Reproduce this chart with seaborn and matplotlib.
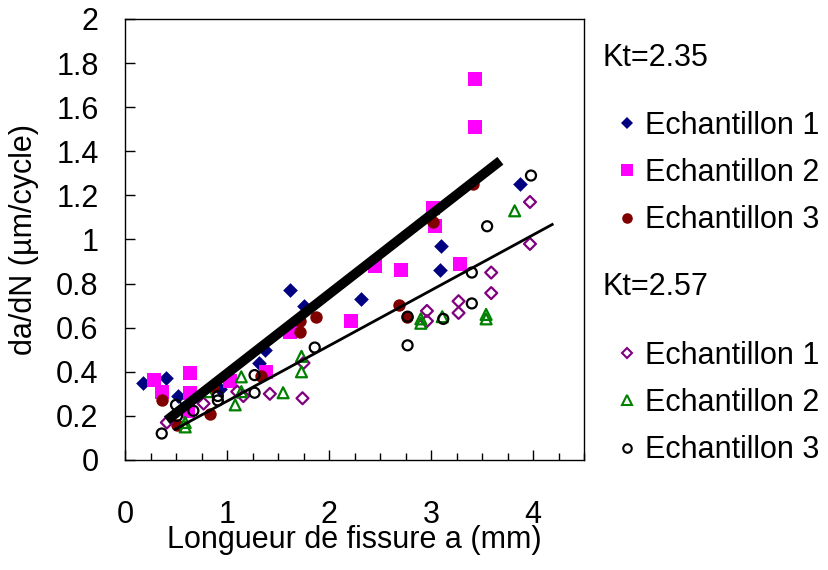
import matplotlib
matplotlib.use("Agg")
import matplotlib.pyplot as plt
import seaborn as sns
import pandas as pd
from matplotlib.lines import Line2D
from matplotlib.ticker import MultipleLocator

# Kt = 2.35
kt1_e1_x = [0.18, 0.40, 0.52, 0.93, 1.31, 1.37, 1.62, 1.75, 2.31, 3.09, 3.10, 3.87]
kt1_e1_y = [0.35, 0.37, 0.29, 0.32, 0.44, 0.50, 0.77, 0.70, 0.73, 0.86, 0.97, 1.25]

kt1_e2_x = [0.28, 0.36, 0.62, 0.64, 0.64, 1.03, 1.38, 1.62, 2.22, 2.45, 2.71, 3.02, 3.04, 3.28, 3.43, 3.43]
kt1_e2_y = [0.365, 0.31, 0.22, 0.305, 0.395, 0.36, 0.40, 0.58, 0.63, 0.88, 0.86, 1.145, 1.06, 0.89, 1.51, 1.73]

kt1_e3_x = [0.36, 0.51, 0.83, 0.86, 1.33, 1.72, 1.72, 1.87, 2.69, 2.76, 3.02, 3.41]
kt1_e3_y = [0.27, 0.16, 0.21, 0.33, 0.38, 0.58, 0.63, 0.65, 0.705, 0.65, 1.08, 1.25]

# Kt = 2.57
kt2_e1_x = [0.41, 0.77, 1.10, 1.16, 1.42, 1.74, 1.75, 2.96, 2.96, 3.27, 3.27, 3.59, 3.59, 3.97, 3.97]
kt2_e1_y = [0.17, 0.256, 0.31, 0.29, 0.30, 0.28, 0.44, 0.676, 0.63, 0.72, 0.667, 0.85, 0.757, 1.17, 0.98]

kt2_e2_x = [0.59, 0.59, 0.81, 1.08, 1.14, 1.14, 1.55, 1.73, 1.73, 2.90, 2.90, 3.11, 3.54, 3.54, 3.82]
kt2_e2_y = [0.15, 0.17, 0.31, 0.25, 0.31, 0.377, 0.305, 0.40, 0.47, 0.62, 0.64, 0.65, 0.64, 0.66, 1.13]

kt2_e3_x = [0.36, 0.50, 0.51, 0.67, 0.91, 0.91, 1.27, 1.27, 1.86, 2.77, 2.77, 3.12, 3.40, 3.40, 3.55, 3.98]
kt2_e3_y = [0.12, 0.25, 0.20, 0.223, 0.27, 0.29, 0.305, 0.385, 0.51, 0.65, 0.52, 0.64, 0.71, 0.85, 1.06, 1.29]

# trend lines (end points)
trend1_x = [0.41, 3.68]
trend1_y = [0.18, 1.357]
trend2_x = [0.48, 4.20]
trend2_y = [0.136, 1.071]

labels = ["Echantillon 1", "Echantillon 2", "Echantillon 3"]

sns.set_theme(style="white")
plt.rcParams["font.family"] = ["Liberation Sans", "DejaVu Sans"]
plt.rcParams["text.color"] = "black"
plt.rcParams["axes.labelcolor"] = "black"
plt.rcParams["xtick.color"] = "black"
plt.rcParams["ytick.color"] = "black"

fig = plt.figure(figsize=(8.29, 5.70), dpi=100)
ax = fig.add_axes([0.1508, 0.193, 0.5537, 0.7737])

# (x, y, marker, color, filled, size)
group1 = [
    (kt1_e1_x, kt1_e1_y, "D", "#000080", True, 56),
    (kt1_e2_x, kt1_e2_y, "s", "#FF00FF", True, 88),
    (kt1_e3_x, kt1_e3_y, "o", "#800000", True, 80),
]
group2 = [
    (kt2_e1_x, kt2_e1_y, "D", "#800080", False, 37),
    (kt2_e2_x, kt2_e2_y, "^", "#008000", False, 62),
    (kt2_e3_x, kt2_e3_y, "o", "black", False, 52),
]

for x, y, m, c, filled, s in group1 + group2:
    df = pd.DataFrame({"a": x, "dadn": y})
    if filled:
        sns.scatterplot(data=df, x="a", y="dadn", ax=ax, marker=m, color=c,
                        s=s, linewidth=0, zorder=2)
    else:
        sns.scatterplot(data=df, x="a", y="dadn", ax=ax, marker=m, color=c,
                        facecolor="none", edgecolor=c, s=s, linewidth=1.6, zorder=2)

sns.lineplot(x=trend1_x, y=trend1_y, ax=ax, color="black", linewidth=7,
             solid_capstyle="butt", zorder=3)
sns.lineplot(x=trend2_x, y=trend2_y, ax=ax, color="black", linewidth=2,
             solid_capstyle="butt", zorder=3)

ax.set_xlim(0, 4.5)
ax.set_ylim(0, 2)
ax.xaxis.set_major_locator(MultipleLocator(1))
ax.xaxis.set_minor_locator(MultipleLocator(0.25))
ax.set_xticks([0, 1, 2, 3, 4])
ax.set_xticklabels(["0", "1", "2", "3", "4"])
ax.set_yticks([0, 0.2, 0.4, 0.6, 0.8, 1.0, 1.2, 1.4, 1.6, 1.8, 2.0])
ax.set_yticklabels(["0", "0.2", "0.4", "0.6", "0.8", "1", "1.2", "1.4", "1.6", "1.8", "2"])
ax.tick_params(axis="x", which="major", direction="in", length=7, width=1,
               pad=29, labelsize=22, bottom=True)
ax.tick_params(axis="x", which="minor", direction="in", length=5, width=1, bottom=True)
ax.tick_params(axis="y", which="major", direction="in", length=7, width=1,
               pad=19, labelsize=22, left=True)
for sp in ax.spines.values():
    sp.set_color("black")
    sp.set_linewidth(1)

ax.set_xlabel("Longueur de fissure a (mm)", fontsize=22, labelpad=-3.5)
ax.set_ylabel("da/dN (µm/cycle)", fontsize=22, labelpad=12.5)

# legend: two groups with headers
fig.text(603 / 829, 1 - 58 / 570, "Kt=2.35", fontsize=22, ha="left", va="center")
fig.text(603 / 829, 1 - 287 / 570, "Kt=2.57", fontsize=22, ha="left", va="center")


def make_handles(group):
    hs = []
    for x, y, m, c, filled, s in group:
        ms = s ** 0.5 * 0.85
        hs.append(Line2D([], [], linestyle="none", marker=m, markersize=ms,
                         markerfacecolor=c if filled else "none",
                         markeredgecolor=c, markeredgewidth=0 if filled else 1.5))
    return hs


leg_kw = dict(loc="upper left", bbox_transform=fig.transFigure, frameon=False,
              fontsize=22, handlelength=0.785, handletextpad=0.2,
              labelspacing=0.56, borderpad=0, borderaxespad=0)
leg1 = ax.legend(make_handles(group1), labels,
                 bbox_to_anchor=(615 / 829, 1 - 111 / 570), **leg_kw)
ax.add_artist(leg1)
ax.legend(make_handles(group2), labels,
          bbox_to_anchor=(615 / 829, 1 - 341 / 570), **leg_kw)

fig.savefig("out.png", dpi=100)
